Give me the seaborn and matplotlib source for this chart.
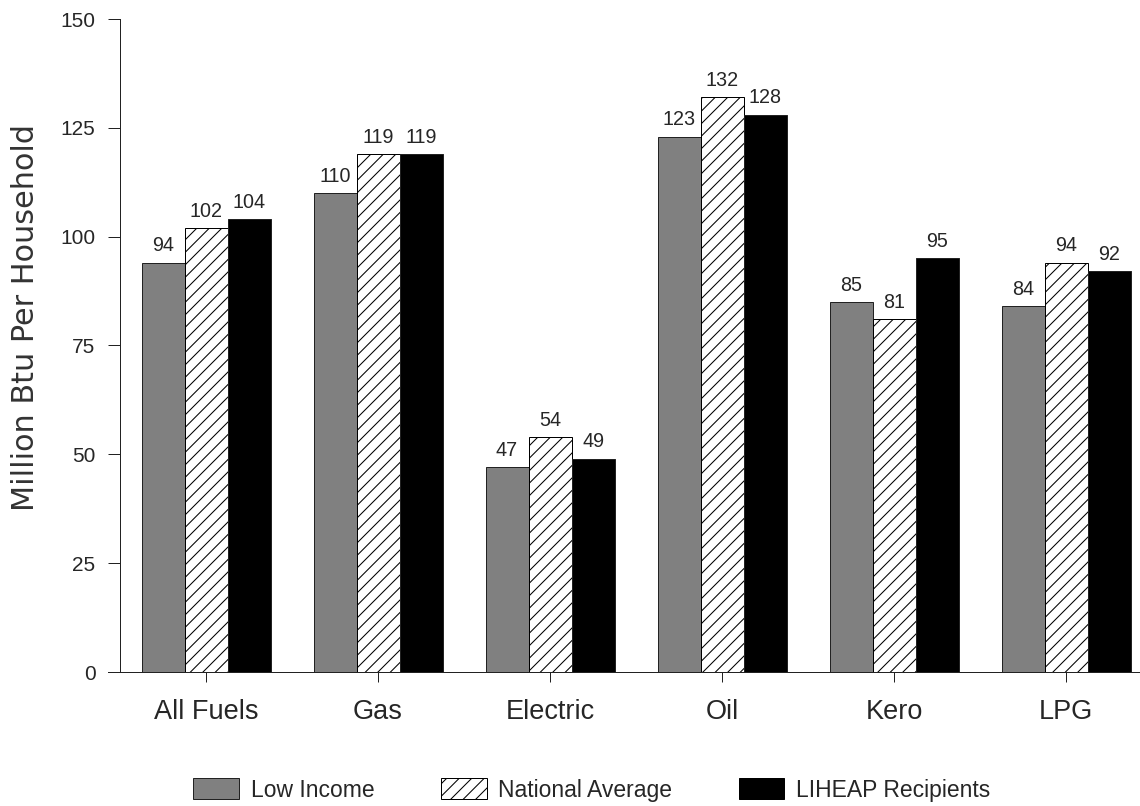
import pandas as pd
import seaborn as sns
import matplotlib.pyplot as plt
from matplotlib.patches import Patch

fuels = ["All Fuels", "Gas", "Electric", "Oil", "Kero", "LPG"]
groups = ["Low Income", "National Average", "LIHEAP Recipients"]
low_income = [94, 110, 47, 123, 85, 84]
national_avg = [102, 119, 54, 132, 81, 94]
liheap = [104, 119, 49, 128, 95, 92]
yticks = [0, 25, 50, 75, 100, 125, 150]

df = pd.DataFrame({
    "fuel": fuels * 3,
    "group": [groups[0]] * 6 + [groups[1]] * 6 + [groups[2]] * 6,
    "value": low_income + national_avg + liheap,
})

sns.set_theme(style="ticks")
plt.rcParams["font.family"] = ["Liberation Sans", "DejaVu Sans"]
plt.rcParams["hatch.color"] = "black"
plt.rcParams["hatch.linewidth"] = 1.0

colors = ["#808080", "white", "black"]

fig = plt.figure(figsize=(15.2, 10.7467), dpi=75)
ax = fig.add_axes([120 / 1140, 1 - 672 / 806, 1020 / 1140, 653 / 806])

sns.barplot(
    data=df, x="fuel", y="value", hue="group",
    order=fuels, hue_order=groups, palette=colors,
    width=0.75, gap=0, saturation=1,
    edgecolor="#222222", linewidth=0.96,
    legend=False, ax=ax,
)

for bar in ax.containers[1]:
    bar.set_hatch("//")
    bar.set_edgecolor("black")

for cont in ax.containers:
    ax.bar_label(cont, fmt="%d", padding=7, fontsize=19)

ax.set_ylim(0, 150)
ax.set_xlim(-0.5, 5.43)
ax.set_yticks(yticks)
ax.set_xlabel("")
ax.set_ylabel("Million Btu Per Household", family="DejaVu Sans", fontsize=29,
              color="#333333")
ax.yaxis.set_label_coords(-0.078, 0.543)

sns.despine(ax=ax)
ax.spines["left"].set_linewidth(0.96)
ax.spines["bottom"].set_linewidth(0.96)
ax.spines["bottom"].set_bounds(-0.57, 5.43)
ax.spines["left"].set_color("#222222")
ax.spines["bottom"].set_color("#222222")

ax.tick_params(axis="y", length=11.5, width=0.96, pad=12, labelsize=20,
               color="#222222")
ax.tick_params(axis="x", length=9.6, width=0.96, pad=16, labelsize=26,
               color="#222222")

handles = [
    Patch(facecolor=colors[0], edgecolor="#222222", linewidth=0.96),
    Patch(facecolor=colors[1], edgecolor="black", linewidth=0.96, hatch="//"),
    Patch(facecolor=colors[2], edgecolor="black", linewidth=0.96),
]
fig.legend(handles, groups, loc="center left",
           bbox_to_anchor=(182 / 1140, 1 - 790 / 806),
           ncol=3, frameon=False, fontsize=22, borderpad=0,
           handlelength=2.0, handleheight=1.04, handletextpad=0.5,
           columnspacing=2.9)

fig.savefig("out.png", dpi=75)
